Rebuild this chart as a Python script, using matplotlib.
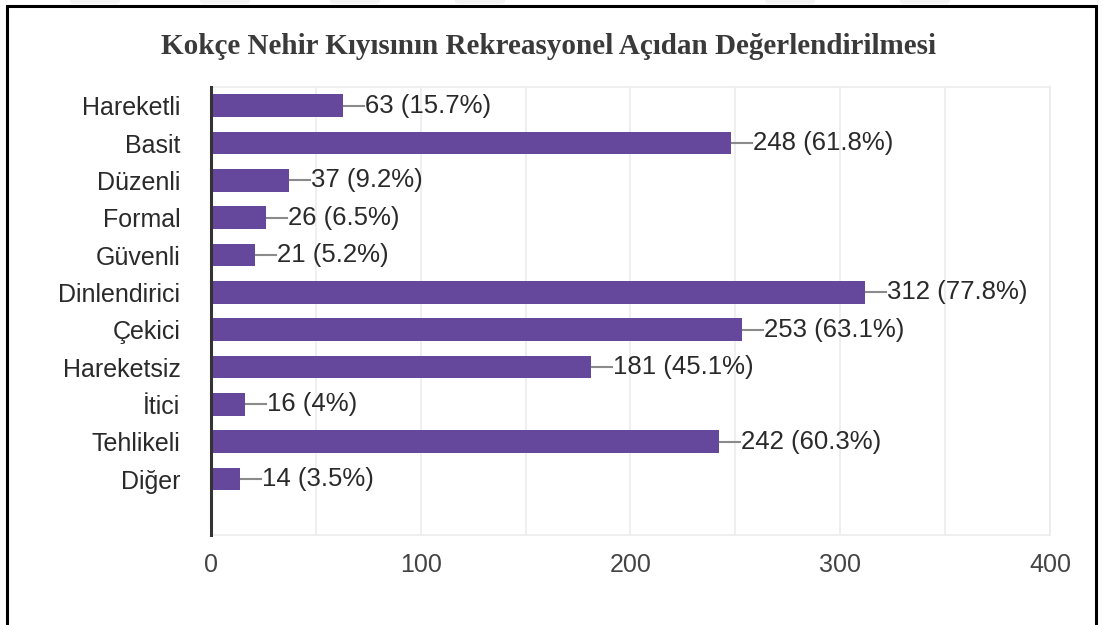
import matplotlib
matplotlib.use('Agg')
import matplotlib.pyplot as plt
from matplotlib.patches import Rectangle, FancyBboxPatch

title = 'Kokçe Nehir Kıyısının Rekreasyonel Açıdan Değerlendirilmesi'
categories = ['Hareketli', 'Basit', 'Düzenli', 'Formal', 'Güvenli', 'Dinlendirici',
              'Çekici', 'Hareketsiz', 'İtici', 'Tehlikeli', 'Diğer']
counts = [63, 248, 37, 26, 21, 312, 253, 181, 16, 242, 14]
percents = ['15.7%', '61.8%', '9.2%', '6.5%', '5.2%', '77.8%', '63.1%', '45.1%', '4%', '60.3%', '3.5%']
x_ticks = [0, 100, 200, 300, 400]

bar_color = '#65479c'
plt.rcParams['font.family'] = ['Liberation Sans', 'DejaVu Sans']

fig = plt.figure(figsize=(11.03, 6.25), dpi=100)
fig.patch.set_facecolor('white')

# faint buttons of the page above, cut off at the top edge
for x0 in [70, 200, 330, 455, 765, 900]:
    fig.add_artist(FancyBboxPatch((x0 / 1103, 0.994), 50 / 1103, 0.02,
                                  boxstyle='round,pad=0,rounding_size=0.004',
                                  transform=fig.transFigure, facecolor='#f3f3f3',
                                  edgecolor='none'))

# outer frame, open at the bottom edge
fig.add_artist(Rectangle((0.0065, -0.05), 0.987, 1.04, transform=fig.transFigure,
                         fill=False, edgecolor='black', linewidth=2.2))

fig.text(0.497, 0.926, title, ha='center', va='center', fontsize=21,
         fontweight='bold', family='Liberation Serif', color='#3a3a3a')

ax = fig.add_axes([0.1913, 0.144, 0.7606, 0.7168])
ypos = list(range(len(categories)))
ax.barh(ypos, counts, height=0.6, color=bar_color, zorder=3)

for y, c, p in zip(ypos, counts, percents):
    ax.plot([c + 0.5, c + 10], [y, y], color='#8a8a8a', linewidth=1.5, zorder=3)
    ax.text(c + 10.5, y, f'{c} ({p})', va='center', ha='left', fontsize=18.5, color='#2a2a2a')

ax.set_xlim(0, 400)
ax.set_ylim(len(categories) + 0.5, -0.5)
ax.set_xticks(x_ticks)
ax.set_xticks(range(50, 400, 100), minor=True)
ax.grid(True, axis='x', which='both', color='#ececec', linewidth=1.2, zorder=0)
ax.set_yticks(ypos)
ax.set_yticklabels(categories, fontsize=18, color='#2a2a2a')
ax.tick_params(axis='y', length=0, pad=22)
ax.tick_params(axis='x', which='both', length=0, pad=13, labelsize=18, labelcolor='#444444')

for side in ['top', 'right', 'bottom']:
    ax.spines[side].set_color('#ececec')
    ax.spines[side].set_linewidth(1.2)
ax.spines['left'].set_color('#333333')
ax.spines['left'].set_linewidth(2.2)
ax.spines['left'].set_zorder(4)

fig.savefig('out.png', dpi=100)
